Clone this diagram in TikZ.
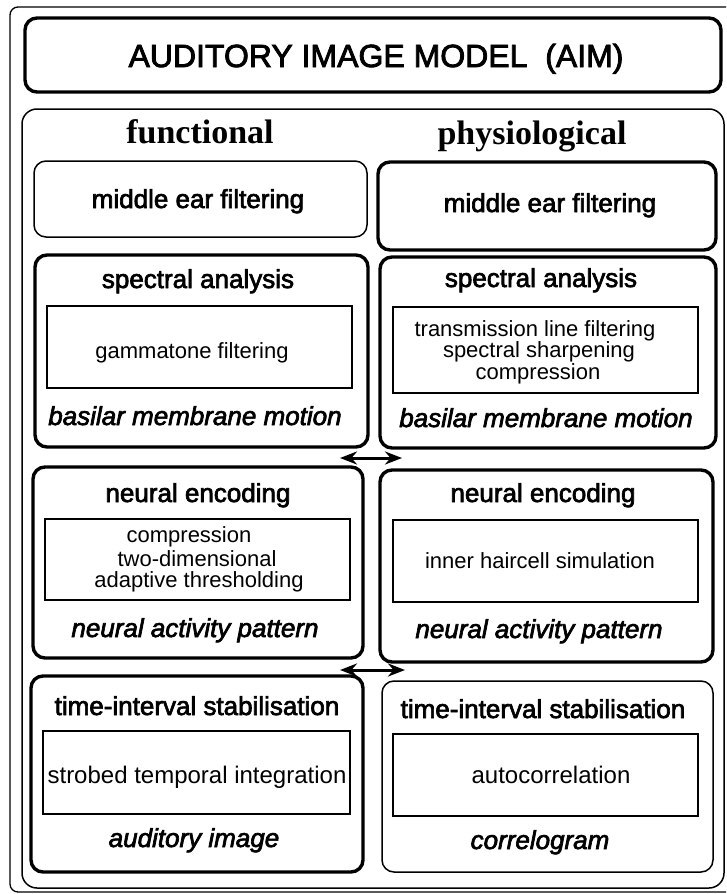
\documentclass[tikz,border=0pt]{standalone}
\usepackage{fontspec}
\setmainfont{Liberation Sans}
\newfontfamily\hdfont[FakeBold=2.6]{Liberation Sans}
\newfontfamily\tmsfont{Liberation Serif}
\usetikzlibrary{arrows.meta}
\tikzset{
  thickbox/.style={draw, line width=3.4pt, rounded corners=12pt, inner sep=0pt},
  thinbox/.style={draw, line width=1.5pt, rounded corners=12pt, inner sep=0pt},
  inbox/.style={draw, line width=1.5pt, inner sep=0pt},
  hd/.style={anchor=base, inner sep=0pt, font=\hdfont\fontsize{26}{26}\selectfont},
  hdit/.style={anchor=base, inner sep=0pt, font=\hdfont\itshape\fontsize{26}{26}\selectfont},
  intxt/.style={anchor=base, inner sep=0pt, font=\fontsize{22}{22}\selectfont},
  inbig/.style={anchor=base, inner sep=0pt, font=\fontsize{24}{24}\selectfont},
  coltitle/.style={anchor=base, inner sep=0pt, font=\tmsfont\bfseries\fontsize{34}{34}\selectfont},
  dblarrow/.style={{Stealth[length=17pt,width=13pt]}-{Stealth[length=17pt,width=13pt]}, line width=3pt},
}
\begin{document}
\begin{tikzpicture}[x=1pt,y=-1pt]
\useasboundingbox (0,0) rectangle (726,894);
\clip (0,0) rectangle (726,894);
% frames
\draw[line width=1.3pt, rounded corners=8pt] (10,7) rectangle (745,892);
\draw[line width=1.5pt, rounded corners=15pt] (22,109) rectangle (724,888);
% title
\node[thickbox, minimum width=696pt, minimum height=74pt] (title) at (373,55) {};
\node[anchor=base, inner sep=0pt, font=\hdfont\fontsize{32}{32}\selectfont] (titletxt) at (376,67) {AUDITORY IMAGE MODEL\ \ (AIM)};
% column titles
\node[coltitle] (func) at (200,143) {functional};
\node[coltitle] (phys) at (532,144) {physiological};
% row 1
\node[thinbox, minimum width=333pt, minimum height=76pt] (meL) at (200.5,199) {};
\node[thickbox, minimum width=338pt, minimum height=88pt] (meR) at (547,206) {};
\node[hd] (meLt) at (198,208) {middle ear filtering};
\node[hd] (meRt) at (550,212) {middle ear filtering};
% row 2
\node[thickbox, minimum width=333pt, minimum height=192pt] (spL) at (201.5,351) {};
\node[thickbox, minimum width=336pt, minimum height=191pt] (spR) at (548,352.5) {};
\node[inbox, minimum width=305pt, minimum height=82pt] (spLi) at (199.5,347) {};
\node[inbox, minimum width=305pt, minimum height=86pt] (spRi) at (545.5,350) {};
\node[hd] (spLh) at (198,288) {spectral analysis};
\node[hd] (spRh) at (541,287) {spectral analysis};
\node[intxt] (spLa) at (192,358) {gammatone filtering};
\node[intxt] (spRa) at (535,336) {transmission line filtering};
\node[intxt] (spRb) at (539,357) {spectral sharpening};
\node[intxt] (spRc) at (538,379) {compression};
\node[hdit] (spLo) at (195,425) {basilar membrane motion};
\node[hdit] (spRo) at (546,427) {basilar membrane motion};
% arrow 1
\coordinate (a1l) at (340,458);
\coordinate (a1r) at (402,458);
\draw[dblarrow] (a1l) -- (a1r);
% row 3
\node[thickbox, minimum width=330pt, minimum height=191pt] (neL) at (198,562.5) {};
\node[thickbox, minimum width=333pt, minimum height=192pt] (neR) at (546.5,566) {};
\node[inbox, minimum width=305pt, minimum height=81pt] (neLi) at (197.5,559.5) {};
\node[inbox, minimum width=305pt, minimum height=82pt] (neRi) at (545.5,561) {};
\node[hd] (neLh) at (198,502) {neural encoding};
\node[hd] (neRh) at (543,502) {neural encoding};
\node[intxt] (neLa) at (189,542) {compression};
\node[intxt] (neLb) at (197,566) {two-dimensional};
\node[intxt] (neLc) at (199,587) {adaptive thresholding};
\node[intxt] (neRa) at (540,568) {inner haircell simulation};
\node[hdit] (neLo) at (195,637) {neural activity pattern};
\node[hdit] (neRo) at (539,638) {neural activity pattern};
% arrow 2
\coordinate (a2l) at (340,670);
\coordinate (a2r) at (405,670);
\draw[dblarrow] (a2l) -- (a2r);
% row 4
\node[thickbox, minimum width=332pt, minimum height=196pt] (tiL) at (197,774) {};
\node[thinbox, minimum width=331pt, minimum height=191pt] (tiR) at (547.5,776.5) {};
\node[inbox, minimum width=307pt, minimum height=83pt] (tiLi) at (196.5,772.5) {};
\node[inbox, minimum width=305pt, minimum height=82pt] (tiRi) at (545.5,775) {};
\node[hd] (tiLh) at (197,715) {time-interval stabilisation};
\node[hd] (tiRh) at (543,718) {time-interval stabilisation};
\node[inbig] (tiLa) at (197,783) {strobed temporal integration};
\node[inbig] (tiRa) at (551,783) {autocorrelation};
\node[hdit] (tiLo) at (194,847) {auditory image};
\node[hdit] (tiRo) at (540,849) {correlogram};
\end{tikzpicture}
\end{document}
